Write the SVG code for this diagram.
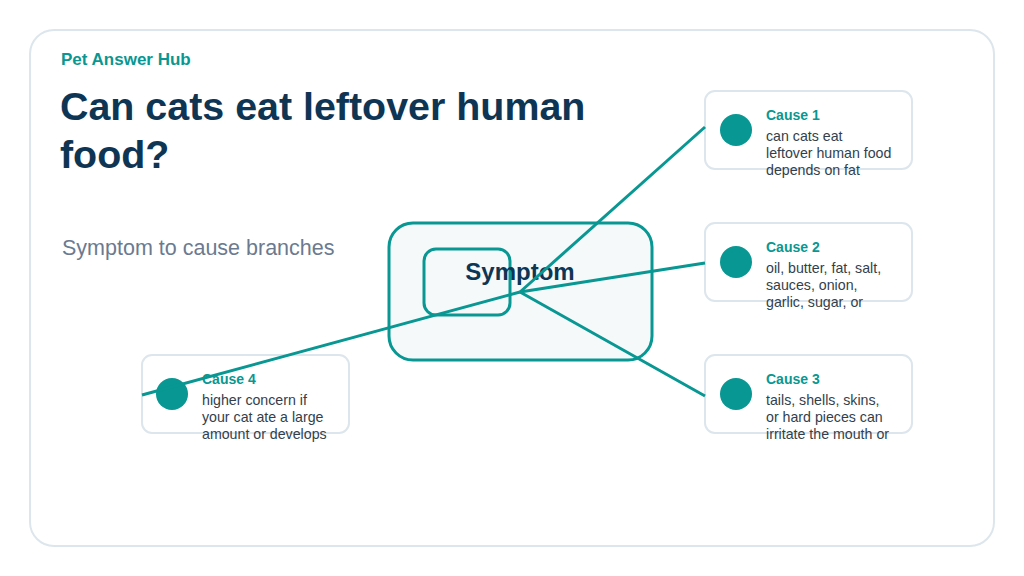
<svg xmlns="http://www.w3.org/2000/svg" width="1024" height="576" viewBox="0 0 1024 576">
<style>
.card{fill:#fff;stroke:#dde6ec;stroke-width:2}
.cause{fill:#fff;stroke:#dde6ec;stroke-width:2}
.dot{fill:#089792}
.ct{font-family:"Liberation Sans",Arial,sans-serif;font-size:14px;font-weight:bold;fill:#089792}
.cb{font-family:"Liberation Sans",Arial,sans-serif;font-size:14.2px;fill:#333f4c}
.conn{stroke:#089792;stroke-width:3;fill:none}
</style>
<rect x="0" y="0" width="1024" height="576" fill="#fff"/>
<rect class="card" x="30" y="30" width="964" height="516" rx="24"/>
<text x="61" y="65" font-family="Liberation Sans,Arial,sans-serif" font-size="17" font-weight="bold" fill="#089792">Pet Answer Hub</text>
<text font-family="Liberation Sans,Arial,sans-serif" font-size="39.4" font-weight="bold" fill="#0f3554"><tspan x="60" y="120">Can cats eat leftover human</tspan><tspan x="60" y="168">food?</tspan></text>
<text x="62" y="255" font-family="Liberation Sans,Arial,sans-serif" font-size="21.5" fill="#6b7a8f">Symptom to cause branches</text>
<g id="symptom">
<rect x="389" y="223" width="263" height="137" rx="24" fill="#f5f9fa" stroke="#089792" stroke-width="3"/>
<rect x="424" y="249" width="86" height="66" rx="12" fill="none" stroke="#089792" stroke-width="3"/>
<text x="520" y="280" text-anchor="middle" font-family="Liberation Sans,Arial,sans-serif" font-size="24" font-weight="bold" fill="#0f3554">Symptom</text>
</g>
<g id="cause1">
<rect class="cause" x="705" y="91" width="207" height="78" rx="10"/>
<circle class="dot" cx="736" cy="130" r="16"/>
<text class="ct" x="766" y="120">Cause 1</text>
<text class="cb"><tspan x="766" y="141">can cats eat</tspan><tspan x="766" y="158">leftover human food</tspan><tspan x="766" y="175">depends on fat</tspan></text>
</g>
<g id="cause2">
<rect class="cause" x="705" y="223" width="207" height="78" rx="10"/>
<circle class="dot" cx="736" cy="262" r="16"/>
<text class="ct" x="766" y="252">Cause 2</text>
<text class="cb"><tspan x="766" y="273">oil, butter, fat, salt,</tspan><tspan x="766" y="290">sauces, onion,</tspan><tspan x="766" y="307">garlic, sugar, or</tspan></text>
</g>
<g id="cause3">
<rect class="cause" x="705" y="355" width="207" height="78" rx="10"/>
<circle class="dot" cx="736" cy="394" r="16"/>
<text class="ct" x="766" y="384">Cause 3</text>
<text class="cb"><tspan x="766" y="405">tails, shells, skins,</tspan><tspan x="766" y="422">or hard pieces can</tspan><tspan x="766" y="439">irritate the mouth or</tspan></text>
</g>
<g id="cause4">
<rect class="cause" x="142" y="355" width="207" height="78" rx="10"/>
<circle class="dot" cx="172" cy="394" r="16"/>
<text class="ct" x="202" y="384">Cause 4</text>
<text class="cb"><tspan x="202" y="405">higher concern if</tspan><tspan x="202" y="422">your cat ate a large</tspan><tspan x="202" y="439">amount or develops</tspan></text>
</g>
<g id="connectors">
<line class="conn" x1="520" y1="292" x2="705" y2="127"/>
<line class="conn" x1="520" y1="292" x2="705" y2="263"/>
<line class="conn" x1="520" y1="292" x2="705" y2="396"/>
<line class="conn" x1="520" y1="292" x2="142" y2="395"/>
</g>
</svg>
